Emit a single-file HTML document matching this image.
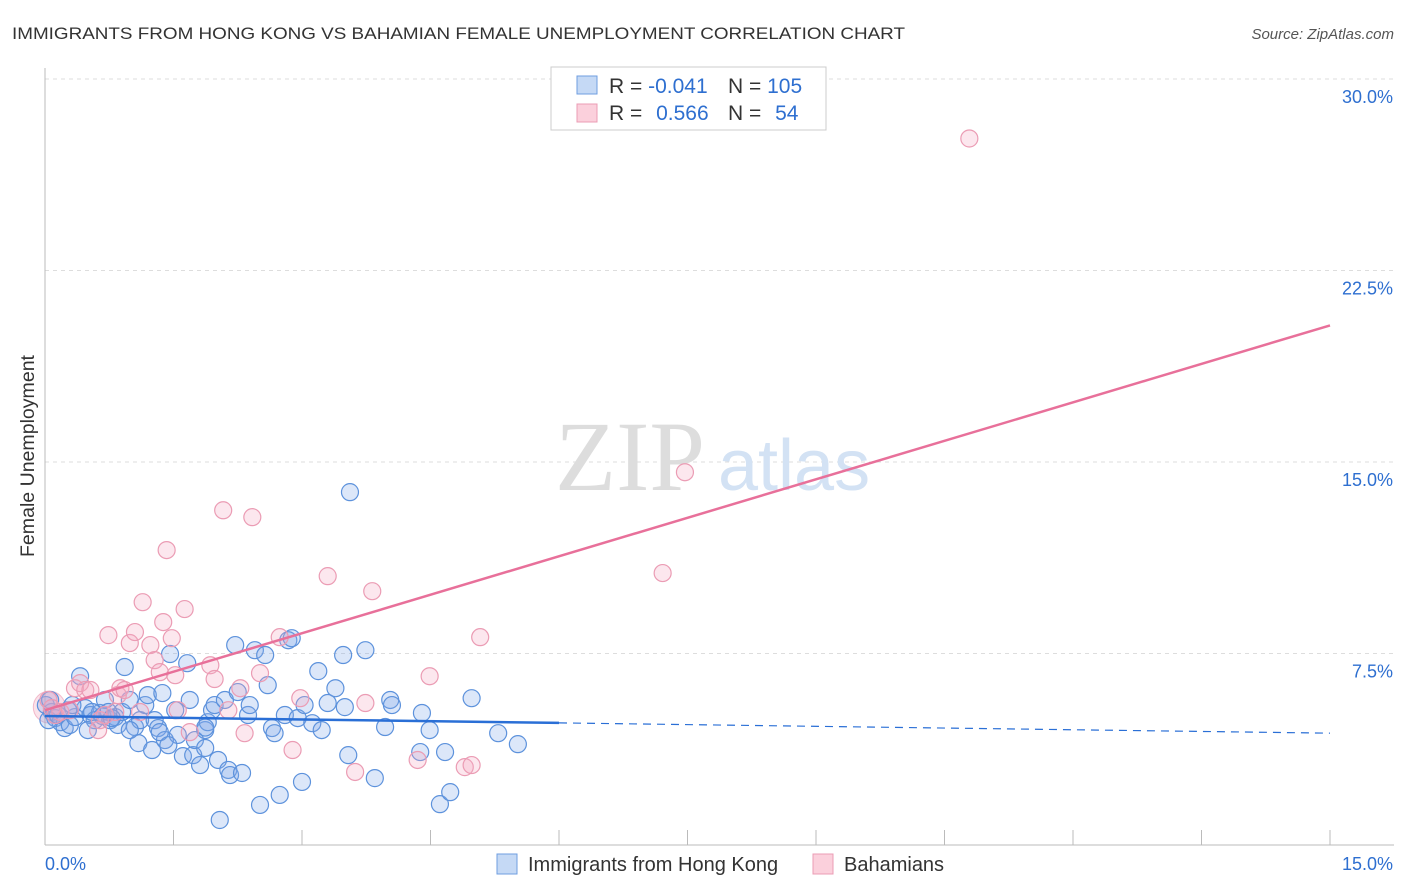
<!DOCTYPE html>
<html><head><meta charset="utf-8"><style>
body{margin:0;background:#fff;font-family:"Liberation Sans",sans-serif}
svg{display:block}
</style></head><body>
<svg width="1406" height="892" xmlns="http://www.w3.org/2000/svg">
<text x="12" y="39" font-size="17" fill="#333" textLength="893" lengthAdjust="spacingAndGlyphs">IMMIGRANTS FROM HONG KONG VS BAHAMIAN FEMALE UNEMPLOYMENT CORRELATION CHART</text>
<text x="1394" y="39" font-size="15" fill="#555" font-style="italic" text-anchor="end">Source: ZipAtlas.com</text>
<g id="grid"></g>
<g id="axes"></g>
<text x="555" y="490" font-size="100" fill="#ddd" font-family="Liberation Serif">ZIP</text>
<text x="718" y="490" font-size="72" fill="#d3e2f4">atlas</text>
<g id="pts"></g>
<g id="lines"></g>
<text transform="translate(34,456) rotate(-90)" font-size="19" fill="#333" text-anchor="middle" textLength="202" lengthAdjust="spacingAndGlyphs">Female Unemployment</text>
<g>
<rect x="551" y="67" width="275" height="63" fill="#fff" stroke="#ccc"/>
<rect x="577" y="76" width="20" height="18" fill="#c5d9f5" stroke="#6f9ee0"/>
<rect x="577" y="104" width="20" height="18" fill="#fbd0dc" stroke="#eb9cb4"/>
<text x="609" y="93" font-size="21" fill="#333">R = <tspan fill="#2e6fd0">-0.041</tspan></text>
<text x="728" y="93" font-size="21" fill="#333">N = <tspan fill="#2e6fd0">105</tspan></text>
<text x="609" y="120" font-size="21" fill="#333">R = <tspan fill="#2e6fd0" dx="8">0.566</tspan></text>
<text x="728" y="120" font-size="21" fill="#333">N = <tspan fill="#2e6fd0" dx="8">54</tspan></text>
</g>
<g>
<rect x="497" y="854" width="20" height="20" fill="#c5d9f5" stroke="#6f9ee0"/>
<text x="528" y="871" font-size="20" fill="#333">Immigrants from Hong Kong</text>
<rect x="813" y="854" width="20" height="20" fill="#fbd0dc" stroke="#eb9cb4"/>
<text x="844" y="871" font-size="20" fill="#333">Bahamians</text>
</g>
</svg>
<script>
const blueX=[.08,.12,.18,.23,.29,.35,.41,.47,.53,.58,.64,.70,.76,.82,.85,.90,.93,.99,1.05,1.09,1.11,1.17,1.20,1.25,1.28,1.32,1.37,1.40,1.46,1.52,1.55,1.61,1.66,1.69,1.73,1.75,1.81,1.87,1.90,1.95,1.98,2.02,2.04,2.10,2.14,2.16,2.22,2.25,2.30,2.37,2.39,2.45,2.51,2.57,2.60,2.65,2.68,2.74,2.80,2.84,2.88,2.95,3.00,3.03,3.12,3.19,3.23,3.30,3.39,3.48,3.50,3.54,3.56,3.74,3.85,3.97,4.03,4.05,4.38,4.40,4.49,4.61,4.67,4.73,4.98,5.29,5.52,.01,.04,.06,.15,.27,.32,.50,.55,.67,.74,.78,.99,1.34,1.44,1.87,1.87];
const blueY=[5.21,4.97,4.81,4.58,4.70,5.01,6.61,5.36,5.09,4.89,5.17,5.68,4.89,5.01,4.70,5.21,6.97,5.68,4.62,3.99,4.89,5.48,5.87,3.72,4.89,4.58,5.95,4.11,7.48,5.28,4.31,3.48,7.12,5.68,3.52,4.11,3.13,4.50,4.81,5.28,5.48,3.33,0.98,5.68,2.94,2.74,7.83,5.99,2.82,5.09,5.48,7.63,1.57,7.44,6.26,4.58,4.38,1.96,5.09,8.02,8.10,4.97,2.47,5.48,4.77,6.81,4.50,5.56,6.14,7.44,5.40,3.52,13.82,7.63,2.62,4.62,5.68,5.48,3.64,5.17,4.50,1.60,3.64,2.07,5.75,4.38,3.95,5.48,4.89,5.68,5.09,5.28,5.48,4.50,5.21,5.05,5.21,4.97,4.50,4.42,3.91,3.80,4.60];
const pinkX=[.04,.08,.12,.18,.29,.35,.41,.47,.53,.62,.64,.70,.74,.82,.85,.88,.93,.99,1.05,1.11,1.14,1.23,1.28,1.34,1.38,1.42,1.48,1.52,1.55,1.63,1.69,1.93,1.98,2.08,2.14,2.28,2.33,2.42,2.51,2.74,2.89,2.98,3.30,3.62,3.74,3.82,4.35,4.49,4.90,4.98,5.08,7.21,7.47,10.79];
const pinkY=[5.68,5.36,5.09,5.21,5.28,6.14,6.34,6.07,6.07,4.50,4.89,5.09,8.22,5.21,5.87,6.14,6.07,7.91,8.34,5.21,9.51,7.83,7.24,6.77,8.73,11.55,8.10,6.65,5.28,9.24,4.42,7.04,6.50,13.11,5.28,6.14,4.38,12.84,6.73,8.14,3.72,5.75,10.53,2.86,5.56,9.94,3.33,6.61,3.05,3.13,8.14,10.65,14.60,27.67];
const yTicks=[7.5,15,22.5,30];
const xTicks=[0,1.5,3,4.5,6,7.5,9,10.5,12,13.5,15];
const blueTrend=[5.05,4.38];
const pinkTrend=[5.28,20.35];
const X=v=>45+v*(1285/15), Y=v=>845-v*(766/30);
const NS="http://www.w3.org/2000/svg";
function mk(t,a,p){const e=document.createElementNS(NS,t);for(const k in a)e.setAttribute(k,a[k]);p.appendChild(e);return e;}
const grid=document.getElementById('grid'),axes=document.getElementById('axes');
yTicks.forEach(t=>{
 const l=mk('line',{x1:45,x2:1394,y1:Y(t),y2:Y(t),stroke:'#ddd','stroke-dasharray':'4,4'},grid);
 
 
 const tx=mk('text',{x:1393,y:Y(t)+24,'font-size':18,fill:'#2e6fd0','text-anchor':'end'},axes);
 tx.textContent=t.toFixed(1)+'%';
 
 
});
mk('line',{x1:45,x2:45,y1:68,y2:845,stroke:'#bbb'},axes);
mk('line',{x1:45,x2:1394,y1:845,y2:845,stroke:'#bbb'},axes);
xTicks.forEach(t=>{const l=mk('line',{x1:X(t),x2:X(t),y1:830,y2:845,stroke:'#bbb'},axes);
 
 });
const t0=mk('text',{x:45,y:870,'font-size':18,fill:'#2e6fd0'},axes);t0.textContent='0.0%';


const t1=mk('text',{x:1393,y:870,'font-size':18,fill:'#2e6fd0','text-anchor':'end'},axes);t1.textContent='15.0%';


const pts=document.getElementById('pts');
const big=mk('circle',{cx:X(0.05),cy:Y(5.4),r:16,fill:'rgba(240,160,185,0.3)',stroke:'rgba(232,130,160,0.5)'},pts);


blueX.forEach((v,i)=>{const c=mk('circle',{cx:X(v),cy:Y(blueY[i]),r:8.5,fill:'rgba(130,170,235,0.28)',stroke:'#5d92dc','stroke-width':1.2},pts);
 
 });
pinkX.forEach((v,i)=>{const c=mk('circle',{cx:X(v),cy:Y(pinkY[i]),r:8.5,fill:'rgba(245,170,195,0.28)',stroke:'#eb9cb4','stroke-width':1.2},pts);
 
 });
const ln=document.getElementById('lines');
const bAt=x=>blueTrend[0]+(blueTrend[1]-blueTrend[0])*x/15;
let l1=mk('line',{x1:X(0),y1:Y(bAt(0)),x2:X(6),y2:Y(bAt(6)),stroke:'#2a6fd6','stroke-width':2.5},ln);


let l2=mk('line',{x1:X(6),y1:Y(bAt(6)),x2:X(15),y2:Y(bAt(15)),stroke:'#2a6fd6','stroke-width':1.2,'stroke-dasharray':'8,6'},ln);


let l3=mk('line',{x1:X(0),y1:Y(pinkTrend[0]),x2:X(15),y2:Y(pinkTrend[1]),stroke:'#e8709a','stroke-width':2.5},ln);


</script>
</body></html>
